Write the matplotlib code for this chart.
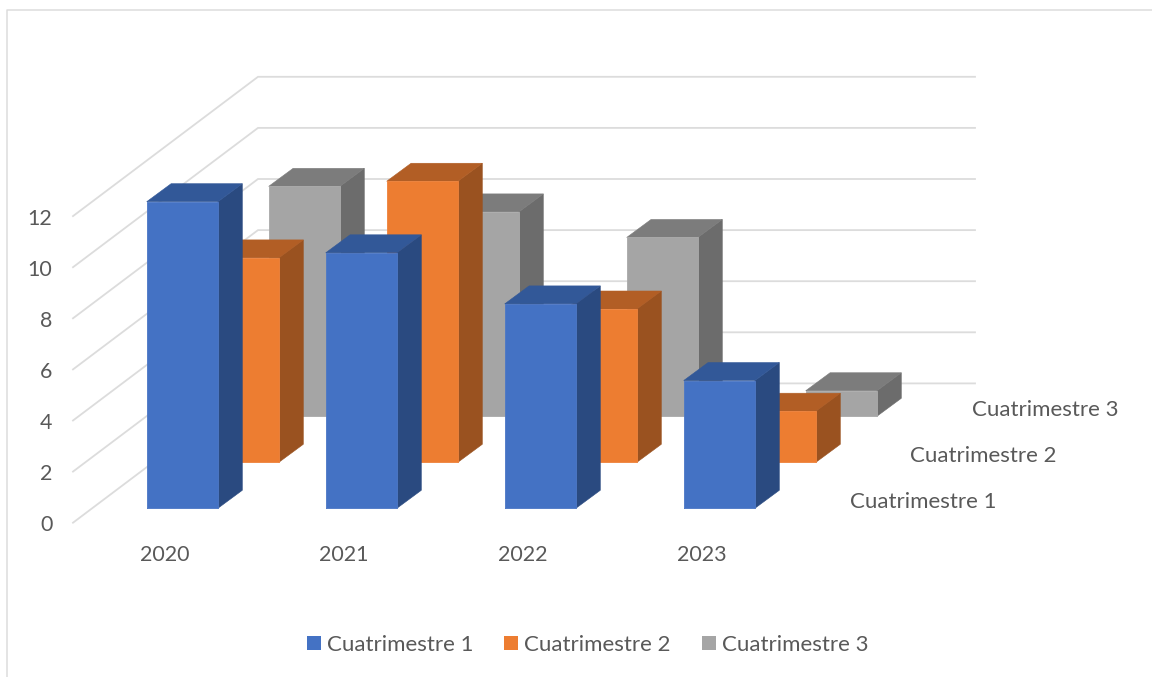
import matplotlib
matplotlib.use("Agg")
import matplotlib.pyplot as plt
from matplotlib.patches import Patch, Polygon

plt.rcParams['font.family'] = ['Lato', 'DejaVu Sans']

# ---- data ----
categories = ['2020', '2021', '2022', '2023']
series_names = ['Cuatrimestre 1', 'Cuatrimestre 2', 'Cuatrimestre 3']
q1_values = [12, 10, 8, 5]
q2_values = [8, 11, 6, 2]
q3_values = [9, 8, 7, 1]
value_ticks = [0, 2, 4, 6, 8, 10, 12]

# ---- oblique projection (output in image pixels) ----
UNIT = 25.55
CAT_STEP = 179.0
SER_DX, SER_DY = 61.0, -46.0
BAR_W = 71.2
DEP_DX, DEP_DY = 24.4, -18.0
X0, Y0 = 146.7, 508.3


def project(cat, ser, val, across=0.0, depth=0.0):
    x = X0 + cat * CAT_STEP + ser * SER_DX + across * BAR_W + depth * DEP_DX
    y = Y0 + ser * SER_DY - val * UNIT + depth * DEP_DY
    return x, y


FACE = ['#4472C4', '#ED7D31', '#A5A5A5']
SIDE = ['#2A4A80', '#9A5220', '#6C6C6C']
TOP = ['#325898', '#B25E25', '#7C7C7C']
EDGE = ['#5079C6', '#EF8540', '#ACACAC']
GRID = '#DCDCDC'
TXT = '#595959'
FS = 16.0
FS_NUM = 15.4

fig = plt.figure(figsize=(11.52, 6.77), dpi=100)
ax = fig.add_axes([0, 0, 1, 1])
ax.set_xlim(0, 1152)
ax.set_ylim(677, 0)
ax.axis('off')

# chart frame
ax.plot([6.8, 6.8, 1152], [677, 9.5, 9.5], color=GRID, lw=1.1, zorder=1)

# walls
for v in value_ticks:
    yf = 522.7 - v * UNIT
    yb = yf - 139.3
    ax.plot([73, 258, 975], [yf, yb, yb], color=GRID, lw=1.3, zorder=1,
            solid_joinstyle='miter')
    ax.text(52.5, yf + 2.5, str(v), ha='right', va='center', fontsize=FS_NUM, color=TXT)

all_series = [q1_values, q2_values, q3_values]
z = 10
for s in (2, 1, 0):
    for c, val in enumerate(all_series[s]):
        front = [project(c, s, 0), project(c, s, 0, 1), project(c, s, val, 1), project(c, s, val)]
        side = [project(c, s, 0, 1), project(c, s, 0, 1, 1), project(c, s, val, 1, 1), project(c, s, val, 1)]
        top = [project(c, s, val), project(c, s, val, 1), project(c, s, val, 1, 1), project(c, s, val, 0, 1)]
        for pts, col in ((side, SIDE[s]), (top, TOP[s]), (front, FACE[s])):
            ax.add_patch(Polygon(pts, closed=True, facecolor=col, edgecolor=col, lw=0.4, zorder=z))
        xs, ys = zip(*front)
        ax.plot(list(xs) + [xs[0]], list(ys) + [ys[0]], color=EDGE[s], lw=0.5, zorder=z + 0.5)
        z += 1

# category labels
for c, name in enumerate(categories):
    x, _ = project(c, 0, 0)
    ax.text(x + 18.3, 555, name, ha='center', va='center', fontsize=FS_NUM, color=TXT)

# series depth labels
for s, name in enumerate(series_names):
    ax.text(849.5 + s * SER_DX, 501.5 + s * SER_DY, name, ha='left', va='center', fontsize=FS, color=TXT)

# legend
handles = [Patch(facecolor=FACE[i], edgecolor='none', label=series_names[i]) for i in range(3)]
ax.legend(handles=handles, ncol=3, loc='center', bbox_to_anchor=(587.5 / 1152, 1 - 645 / 677),
          frameon=False, fontsize=FS, labelcolor=TXT, handlelength=0.63, handleheight=0.63,
          handletextpad=0.27, columnspacing=1.39, borderpad=0)

fig.savefig('out.png', dpi=100, facecolor='white')
